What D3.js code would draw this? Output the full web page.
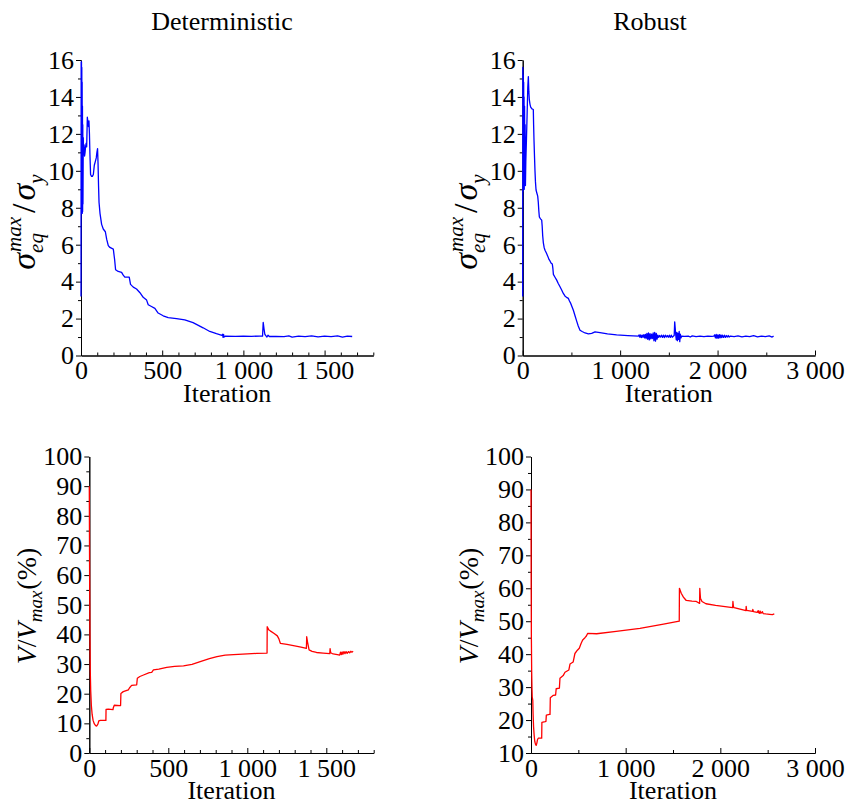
<!DOCTYPE html>
<html>
<head>
<meta charset="utf-8">
<script src="https://cdn.jsdelivr.net/npm/d3@7"></script>
<style>
  body { margin: 0; background: #fff; }
  .axis path, .axis line { stroke: #000; stroke-width: 1; }
</style>
</head>
<body>
<div id="chart"></div>
<script>
// Deterministic: max equivalent stress / yield stress
var detStressIt = [0,1,2,3,4,5,6,7,8,9,10,11,12,14,16,19,22,25,28,32,35,39,43,46,49,52,55,59,65,70,76,82,88,94,98,102,105,108,111,117,127,137,150,158,168,178,199,204,207,213,229,250,260,270,297,305,322,342,363,383,404,414,434,455,475,506,537,588,639,690,752,793,834,868,872,875,878,881,890,950,1000,1050,1100,1118,1122,1127,1132,1138,1145,1152,1160,1200,1250,1280,1300,1340,1380,1420,1460,1500,1540,1580,1610,1640,1670];
var detStressVal = [3.2,15.9,7.8,15.9,7.7,15.6,7.9,14.8,7.7,13.5,7.8,12.5,8.2,11.8,10.9,11.4,10.8,11.0,11.3,11.5,11.3,12.9,12.6,12.4,12.7,12.0,10.9,9.8,9.7,9.7,9.8,10.3,10.5,10.7,11.0,11.2,10.4,9.2,8.3,7.7,7.1,6.85,6.7,6.3,5.95,5.85,5.76,5.4,5.2,4.64,4.55,4.5,4.35,4.24,4.24,3.85,3.7,3.6,3.4,3.15,3.0,2.75,2.65,2.55,2.3,2.15,2.05,2.0,1.93,1.78,1.5,1.3,1.18,1.09,1.15,0.98,1.14,1.0,1.05,1.04,1.05,1.04,1.05,1.05,1.79,1.45,1.15,1.08,1.0,1.1,1.03,1.04,1.02,1.06,1.0,1.05,1.02,1.06,1.01,1.05,1.02,1.06,1.0,1.05,1.03];

// Robust: max equivalent stress / yield stress
var robStressIt = [0,1,2,3,4,6,8,10,12,14,16,19,22,25,28,32,38,45,52,58,63,68,75,82,95,109,112,116,121,126,131,137,145,154,160,166,171,183,195,200,205,212,220,229,243,257,270,280,292,304,310,315,330,349,365,383,400,417,435,450,469,480,493,505,520,537,554,570,588,610,640,674,708,742,793,870,964,1080,1187,
  1195,1203,1211,1219,1227,1235,1243,1251,1259,1267,1275,1283,1291,1299,1307,1315,1323,1331,1339,1347,1355,1363,1371,1379,1387,1395,1405,1415,1425,1435,1445,1455,1465,1475,1485,1495,1505,1515,1525,1535,1547,
  1555,1560,1565,1570,1576,1582,1588,1594,1600,1606,1612,1618,1624,1632,1660,1700,1720,1740,1780,1820,1860,1900,1940,
  1962,1970,1978,1986,1994,2002,2010,2018,2026,2034,2042,2050,2060,2070,2080,2090,2100,2110,2120,2132,2170,2210,2250,2290,2330,2370,2410,2450,2490,2530,2560,2575];
var robStressVal = [3.2,15.6,9,15.5,8.9,15.2,9.0,14.8,9.2,14,9,13.5,9.3,12.5,9.2,10.5,11.6,13,14.5,15.1,14.3,13.85,13.6,13.45,13.35,13.32,12.5,11.66,10.8,10.0,9.4,8.96,8.8,8.63,8.3,7.8,7.5,7.4,7.33,7.0,6.5,6.1,5.85,5.7,5.55,5.38,5.2,5.12,5.0,4.95,4.7,4.39,4.25,4.08,3.9,3.72,3.55,3.36,3.21,3.15,3.09,2.95,2.82,2.65,2.45,2.15,1.86,1.6,1.37,1.3,1.22,1.17,1.2,1.28,1.24,1.17,1.12,1.08,1.05,
  1.12,0.98,1.12,0.97,1.1,0.99,1.13,0.95,1.14,0.92,1.2,0.88,1.22,0.85,1.18,0.9,1.15,0.92,1.22,0.8,1.25,0.78,1.2,0.88,1.1,0.98,1.08,1.0,1.1,0.98,1.1,0.97,1.1,1.0,1.08,0.99,1.1,0.98,1.1,0.99,1.05,
  1.08,1.82,1.5,1.15,0.85,1.25,0.8,1.2,0.88,1.3,0.75,1.15,0.95,1.05,1.04,1.05,1.0,1.06,1.02,1.05,1.02,1.05,1.03,
  1.05,1.12,0.95,1.14,0.93,1.12,0.94,1.13,0.95,1.12,0.97,1.1,0.98,1.1,0.98,1.08,1.0,1.08,1.0,1.05,1.02,1.06,1.01,1.05,1.02,1.07,1.01,1.05,1.02,1.06,1.0,1.05];

// Deterministic: volume fraction (%)
var detVolIt = [0,2,4,6,9,13,18,24,32,40,47,55,60,70,105,106,120,150,152,158,195,198,200,215,247,255,268,300,304,320,343,380,395,406,440,490,540,596,650,702,760,808,860,913,1000,1060,1125,1126,1135,1145,1170,1190,1200,1209,1251,1300,1340,1374,1376,1381,1391,1410,1438,1480,1522,1524,1528,1543,1570,1585,1590,1595,1600,1605,1612,1618,1625,1632,1640,1648,1655,1662,1670];
var detVolVal = [90,60,40,28,21,16,13,11,9.8,9.2,9.1,9.8,10.8,11,11,14.7,14.8,14.6,15.3,16.1,16,16.0,20.1,20.7,21.3,22,22.8,23,25.2,25.8,26.3,27.1,27.2,28,28.3,28.9,29.2,29.4,29.9,30.8,31.8,32.5,33.0,33.2,33.4,33.6,33.7,42.6,41.6,41.2,40.3,39.5,38.5,37.0,36.6,36.1,35.7,35.3,39.2,37.5,34.8,34.3,33.9,33.7,33.5,35.2,33.8,33.4,33.2,33.0,34.0,33.2,34.1,33.3,34.2,33.5,34.2,33.6,34.2,33.8,34.3,34.0,34.3];

// Robust: volume fraction (%)
var robVolIt = [0,2,4,7,10,13,16,19,22,27,33,40,48,55,62,68,77,113,115,150,158,162,195,201,204,236,260,266,300,306,340,359,400,412,445,464,490,510,530,546,570,585,598,693,900,1151,1400,1566,1568,1587,1610,1622,1640,1700,1746,1781,1783,1790,1806,1848,1950,2050,2130,2133,2138,2145,2230,2271,2273,2278,2341,2343,2350,2390,2400,2405,2412,2420,2428,2445,2452,2480,2520,2550,2570];
var robVolVal = [90,60,45,35,30,27,26.5,26,22,18,15.5,13.5,12.6,12.3,13,14,14.5,14.5,19.3,19.5,19.6,21.5,21.7,21.7,26.8,27.5,27.6,29.5,29.7,32.7,33.5,34.5,35.2,37,37.6,40.2,41.2,41.8,43.3,44.3,45,45.5,46.3,46.2,46.9,47.8,49.1,50,60,58.5,57.3,56.9,56.3,56.1,56,55.4,60,57,56,55.3,54.8,54.4,54.1,56,54.5,54.1,53.5,53.2,54.5,53.3,53,53.6,52.9,52.7,53.2,52.6,52.4,53.1,52.4,52.9,52.3,52.2,52.1,52.0,52.2];

// tick values
var stressTicks = [0,2,4,6,8,10,12,14,16];
var stressMinor = [1,3,5,7,9,11,13,15];
var detVolTicks = [0,10,20,30,40,50,60,70,80,90,100];
var robVolTicks = [10,20,30,40,50,60,70,80,90,100];
var volMinor = [5,15,25,35,45,55,65,75,85,95];
var detIterTicks = [0,500,1000,1500];
var detIterMinor = [100,200,300,400,600,700,800,900,1100,1200,1300,1400,1600,1700,1800];
var robIterTicks = [0,1000,2000,3000];
var robIterMinor = [500,1500,2500];
var titles = ["Deterministic", "Robust"];

var FONT = "'Liberation Serif', 'Times New Roman', Times, serif";
var width = 846, height = 803;
var svg = d3.select("#chart").append("svg")
  .attr("width", width).attr("height", height)
  .attr("font-family", FONT);

var fmt = d3.formatLocale({decimal: ".", thousands: " ", grouping: [3], currency: ["", ""]}).format(",d");

function toPoints(its, vals) {
  return its.map(function(d, i) { return [d, vals[i]]; });
}

var panels = [
  {left: 81, right: 373.3, top: 60, bottom: 355.5, xDom: [0, 1800], yDom: [0, 16],
   xT: detIterTicks, xM: detIterMinor, yT: stressTicks, yM: stressMinor,
   data: toPoints(detStressIt, detStressVal), color: "#0000ff", label: "stress"},
  {left: 522.7, right: 815, top: 60, bottom: 355.5, xDom: [0, 3000], yDom: [0, 16],
   xT: robIterTicks, xM: robIterMinor, yT: stressTicks, yM: stressMinor,
   data: toPoints(robStressIt, robStressVal), color: "#0000ff", label: "stress"},
  {left: 89.3, right: 373.7, top: 456.5, bottom: 753, xDom: [0, 1800], yDom: [0, 100],
   xT: detIterTicks, xM: detIterMinor, yT: detVolTicks, yM: volMinor,
   data: toPoints(detVolIt, detVolVal), color: "#ff0000", label: "vol"},
  {left: 531, right: 815, top: 456.5, bottom: 753, xDom: [0, 3000], yDom: [10, 100],
   xT: robIterTicks, xM: robIterMinor, yT: robVolTicks, yM: volMinor.slice(1),
   data: toPoints(robVolIt, robVolVal), color: "#ff0000", label: "vol"}
];

function styleAxis(g) {
  g.attr("font-family", null).attr("font-size", null);
  g.selectAll("text").attr("font-family", FONT).attr("font-size", "26px").attr("fill", "#000");
}

panels.forEach(function(p) {
  var x = d3.scaleLinear().domain(p.xDom).range([p.left, p.right]);
  var y = d3.scaleLinear().domain(p.yDom).range([p.bottom, p.top]);

  // x axis, ticks pointing up into the plot
  svg.append("g").attr("class", "axis")
    .attr("transform", "translate(0," + p.bottom + ")")
    .call(d3.axisBottom(x).tickValues(p.xM).tickSizeInner(-3).tickSizeOuter(0).tickFormat(""));
  var xa = svg.append("g").attr("class", "axis")
    .attr("transform", "translate(0," + p.bottom + ")")
    .call(d3.axisBottom(x).tickValues(p.xT).tickSizeInner(-5).tickSizeOuter(0).tickPadding(5).tickFormat(fmt))
    .call(styleAxis);
  xa.selectAll("text").attr("dy", "0.72em");

  // y axis, ticks pointing out
  svg.append("g").attr("class", "axis")
    .attr("transform", "translate(" + p.left + ",0)")
    .call(d3.axisLeft(y).tickValues(p.yM).tickSizeInner(3).tickSizeOuter(0).tickFormat(""));
  svg.append("g").attr("class", "axis")
    .attr("transform", "translate(" + p.left + ",0)")
    .call(d3.axisLeft(y).tickValues(p.yT).tickSizeInner(5).tickSizeOuter(0).tickPadding(2).tickFormat(d3.format("d")))
    .call(styleAxis);

  var line = d3.line().x(function(d) { return x(d[0]); }).y(function(d) { return y(d[1]); });
  svg.append("path").datum(p.data)
    .attr("d", line)
    .attr("fill", "none")
    .attr("stroke", p.color)
    .attr("stroke-width", 1.3)
    .attr("stroke-linejoin", "round");

  svg.append("text")
    .attr("x", (p.left + p.right) / 2)
    .attr("y", p.bottom + 46)
    .attr("text-anchor", "middle")
    .attr("font-size", "26px")
    .text("Iteration");

  if (p.label == "stress") stressLabel(p.left - 46, 222);
  else volLabel(p.left - 53, 606);
});

// column titles
svg.append("text").attr("x", 222).attr("y", 30).attr("text-anchor", "middle")
  .attr("font-size", "26px").text(titles[0]);
svg.append("text").attr("x", 650).attr("y", 30).attr("text-anchor", "middle")
  .attr("font-size", "26px").text(titles[1]);

function labelAdder(inner) {
  return function(t, x, y, size, italic) {
    var n = inner.append("text").attr("x", x).attr("y", y)
      .attr("font-size", size + "px").attr("font-style", italic ? "italic" : "normal").text(t);
    return n.node().getComputedTextLength();
  };
}

function stressLabel(cx, cy) {
  var outer = svg.append("g").attr("transform", "translate(" + cx + "," + cy + ") rotate(-90)");
  var inner = outer.append("g");
  var add = labelAdder(inner);
  var pos = 0;
  pos += add("σ", pos, 0, 34, true);
  var w1 = add("max", pos + 1, -14, 21, true);
  var w2 = add("eq", pos, 8, 21, true);
  pos += Math.max(w1 + 1, w2) + 4;
  pos += add("/", pos, 0, 34, false) + 3;
  pos += add("σ", pos, 0, 34, true);
  pos += add("y", pos, 8, 21, true);
  inner.attr("transform", "translate(" + (-pos / 2) + ",0)");
}

function volLabel(cx, cy) {
  var outer = svg.append("g").attr("transform", "translate(" + cx + "," + cy + ") rotate(-90)");
  var inner = outer.append("g");
  var add = labelAdder(inner);
  var pos = 0;
  pos += add("V", pos, 0, 28, true);
  pos += add("/", pos, 0, 28, false);
  pos += add("V", pos, 0, 28, true);
  pos += add("max", pos, 6, 19, true) + 1;
  pos += add("(%)", pos, 0, 28, false);
  inner.attr("transform", "translate(" + (-pos / 2) + ",0)");
}
</script>
</body>
</html>
